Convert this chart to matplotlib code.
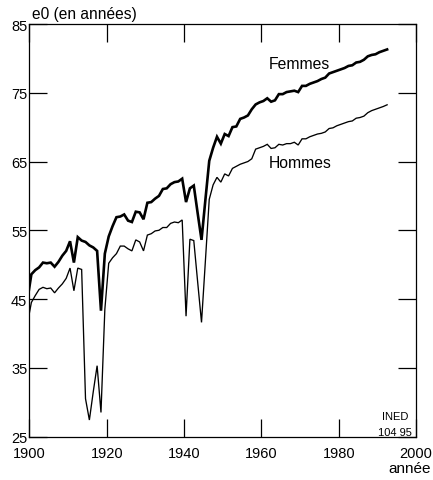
import numpy as np
import matplotlib
matplotlib.use('Agg')
import matplotlib.pyplot as plt

# ===================== données : espérance de vie à la naissance (France) =====================
ANNEES = np.arange(1899, 1993)  # valeurs annuelles, placées en milieu d'année

FEMMES = [
    45.0, 48.6, 49.2, 49.6, 50.3, 50.2, 50.3, 49.7, 50.4, 51.3,   # 1899-1908
    52.0, 53.4, 50.3, 54.0, 53.5, 53.3, 52.8, 52.5, 52.0, 43.3,   # 1909-1918
    51.6, 54.1, 55.6, 56.9, 57.0, 57.3, 56.4, 56.2, 57.7, 57.6,   # 1919-1928
    56.6, 59.0, 59.1, 59.6, 60.0, 61.0, 61.1, 61.7, 62.0, 62.1,   # 1929-1938
    62.5, 59.1, 61.1, 61.5, 57.5, 53.6, 59.4, 65.1, 67.0, 68.6,   # 1939-1948
    67.6, 69.0, 68.7, 70.0, 70.1, 71.2, 71.4, 71.7, 72.6, 73.3,   # 1949-1958
    73.6, 73.8, 74.2, 73.7, 73.9, 74.8, 74.8, 75.1, 75.2, 75.3,   # 1959-1968
    75.1, 76.0, 76.0, 76.3, 76.5, 76.7, 77.0, 77.2, 77.8, 78.0,   # 1969-1978
    78.2, 78.4, 78.6, 78.9, 79.0, 79.4, 79.5, 79.8, 80.3, 80.5,   # 1979-1988
    80.6, 80.9, 81.1, 81.3,                                       # 1989-1992
]

HOMMES = [
    41.5, 44.5, 45.5, 46.4, 46.7, 46.5, 46.6, 45.9, 46.6, 47.2,   # 1899-1908
    48.0, 49.5, 46.2, 49.5, 49.3, 30.5, 27.4, 31.5, 35.3, 28.5,   # 1909-1918
    43.5, 50.2, 51.0, 51.6, 52.7, 52.7, 52.3, 52.0, 53.6, 53.3,   # 1919-1928
    52.0, 54.3, 54.5, 54.9, 55.0, 55.4, 55.4, 56.0, 56.2, 56.1,   # 1929-1938
    56.5, 42.5, 53.7, 53.5, 47.5, 41.6, 50.5, 59.5, 61.6, 62.7,   # 1939-1948
    62.0, 63.2, 62.9, 64.0, 64.3, 64.6, 64.8, 65.0, 65.4, 66.8,   # 1949-1958
    67.0, 67.2, 67.5, 66.9, 67.0, 67.5, 67.4, 67.6, 67.6, 67.8,   # 1959-1968
    67.4, 68.3, 68.3, 68.6, 68.8, 69.0, 69.1, 69.3, 69.8, 69.9,   # 1969-1978
    70.2, 70.4, 70.6, 70.8, 70.9, 71.3, 71.4, 71.6, 72.1, 72.4,   # 1979-1988
    72.6, 72.8, 73.0, 73.25,                                      # 1989-1992
]

X_TICKS = [1900, 1920, 1940, 1960, 1980, 2000]
Y_TICKS = [25, 35, 45, 55, 65, 75, 85]

# ===================== mise en page =====================
plt.rcParams['font.family'] = ['Liberation Sans', 'DejaVu Sans']

fig = plt.figure(figsize=(4.33, 4.81), dpi=100)
ax = fig.add_axes([0.068, 0.0904, 0.893, 0.8576])

x = ANNEES + 0.5
ax.plot(x, FEMMES, color='black', linewidth=1.9, solid_joinstyle='miter')
ax.plot(x, HOMMES, color='black', linewidth=0.95, solid_joinstyle='miter')

ax.set_xlim(1900, 2000)
ax.set_ylim(25, 85)
ax.set_xticks(X_TICKS)
ax.set_yticks(Y_TICKS)
ax.tick_params(axis='both', direction='in', length=13, width=0.9,
               top=True, right=True, labelsize=10.5, colors='black')
ax.tick_params(axis='y', pad=1.5)
ax.tick_params(axis='x', pad=6.5)
for sp in ax.spines.values():
    sp.set_linewidth(0.9)

# étiquettes des courbes
ax.text(1961.8, 79.3, 'Femmes', fontsize=11.3, va='center', ha='left')
ax.text(1961.8, 64.9, 'Hommes', fontsize=11.3, va='center', ha='left')

# source
ax.text(0.946, 0.050, 'INED', transform=ax.transAxes, fontsize=8,
        ha='center', va='center')
ax.text(0.946, 0.012, '104 95', transform=ax.transAxes, fontsize=8,
        ha='center', va='center')

# titres des axes
fig.text(0.074, 0.969, 'e0 (en années)', fontsize=11.2, ha='left', va='center')
fig.text(0.995, 0.024, 'année', fontsize=11, ha='right', va='center')

fig.savefig('out.png', dpi=100)
